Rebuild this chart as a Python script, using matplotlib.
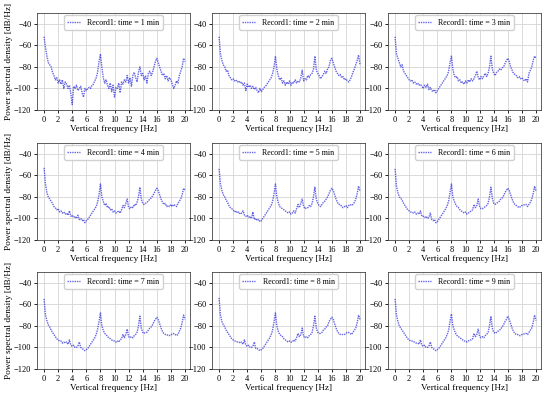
import numpy as np
import matplotlib
matplotlib.use('Agg')
import matplotlib.pyplot as plt

plt.rcParams['font.family'] = ['Liberation Serif', 'DejaVu Serif']
plt.rcParams['mathtext.fontset'] = 'stix'

# frequency grid [Hz], 0.2 Hz step
freq = np.round(np.arange(0, 20.01, 0.2), 2)

# PSD estimates [dB/Hz]
psd_1min = [-52, -62, -70, -76, -78, -80, -85, -88, -92, -90,
            -95, -92, -96, -92, -100, -94, -96, -100, -97, -105,
            -115, -98, -100, -97, -102, -100, -98, -104, -108, -100,
            -102, -100, -99, -100, -97, -96, -93, -90, -85, -75,
            -68, -80, -90, -95, -92, -97, -100, -95, -103, -97,
            -108, -99, -100, -95, -104, -94, -96, -92, -94, -88,
            -95, -90, -98, -88, -85, -90, -94, -85, -80, -88,
            -86, -92, -88, -95, -86, -84, -88, -85, -80, -75,
            -72, -76, -80, -84, -88, -86, -91, -88, -93, -90,
            -92, -96, -100, -97, -93, -95, -88, -84, -80, -72,
            -75]
psd_2min = [-52, -68, -74, -78, -80, -84, -83, -88, -90, -92,
            -91, -93, -92, -94, -93, -95, -94, -97, -95, -102,
            -96, -99, -97, -100, -98, -101, -99, -102, -104, -100,
            -103, -101, -99, -98, -96, -94, -92, -90, -86, -80,
            -70, -82, -88, -92, -90, -95, -93, -97, -94, -96,
            -93, -97, -94, -95, -92, -95, -93, -94, -90, -83,
            -93, -91, -92, -88, -90, -87, -86, -82, -70, -83,
            -86, -88, -91, -89, -87, -84, -86, -82, -80, -74,
            -72, -76, -80, -84, -86, -88, -87, -90, -89, -92,
            -91, -93, -94, -92, -89, -85, -82, -78, -74, -69,
            -78]
psd_3min = [-52, -68, -72, -76, -80, -78, -84, -86, -88, -90,
            -92, -93, -92, -95, -94, -96, -95, -97, -96, -98,
            -100, -97, -99, -96, -101, -99, -102, -103, -101, -104,
            -102, -100, -98, -96, -94, -92, -90, -88, -84, -76,
            -70, -82, -88, -90, -89, -93, -92, -95, -94, -96,
            -93, -95, -92, -94, -91, -93, -91, -88, -84, -90,
            -92, -89, -91, -88, -86, -89, -86, -80, -70, -82,
            -86, -88, -85, -84, -82, -83, -81, -80, -77, -74,
            -72, -75, -80, -83, -86, -87, -88, -90, -89, -91,
            -90, -92, -93, -91, -94, -86, -83, -80, -74, -70,
            -72]
psd_4min = [-53, -68, -76, -80, -82, -84, -86, -89, -90, -92,
            -91, -94, -93, -95, -94, -96, -95, -97, -93, -98,
            -97, -99, -98, -100, -97, -101, -100, -102, -101, -104,
            -102, -101, -99, -97, -95, -93, -91, -89, -85, -78,
            -68, -80, -84, -88, -86, -90, -89, -92, -91, -94,
            -93, -95, -94, -93, -95, -92, -88, -90, -86, -82,
            -90, -91, -89, -90, -87, -88, -85, -80, -71, -82,
            -86, -87, -86, -85, -84, -82, -81, -79, -77, -74,
            -72, -74, -78, -82, -85, -87, -86, -89, -88, -89,
            -87, -89, -87, -88, -89, -86, -84, -82, -78, -72,
            -74]
psd_5min = [-54, -68, -74, -78, -80, -83, -85, -88, -90, -91,
            -92, -94, -93, -95, -94, -96, -95, -93, -97, -98,
            -97, -99, -98, -100, -94, -101, -100, -102, -101, -103,
            -102, -100, -98, -96, -94, -92, -90, -88, -84, -77,
            -68, -80, -85, -89, -90, -91, -92, -93, -94, -95,
            -94, -96, -95, -93, -95, -91, -87, -90, -86, -82,
            -89, -91, -90, -90, -88, -89, -86, -80, -71, -82,
            -86, -88, -89, -87, -85, -84, -82, -80, -77, -74,
            -72, -74, -78, -82, -85, -87, -87, -89, -90, -89,
            -88, -90, -88, -87, -88, -87, -85, -82, -77, -70,
            -75]
psd_6min = [-54, -70, -76, -80, -81, -83, -86, -88, -90, -92,
            -93, -94, -94, -95, -94, -96, -95, -96, -93, -98,
            -98, -99, -98, -100, -99, -95, -101, -102, -101, -104,
            -103, -101, -99, -97, -95, -93, -91, -88, -84, -76,
            -68, -80, -84, -87, -89, -90, -92, -93, -94, -95,
            -94, -96, -95, -94, -93, -92, -87, -90, -88, -82,
            -89, -91, -91, -90, -89, -88, -86, -80, -71, -81,
            -86, -87, -86, -85, -84, -82, -81, -79, -76, -74,
            -72, -74, -78, -82, -85, -87, -88, -89, -90, -89,
            -88, -88, -87, -87, -89, -87, -85, -82, -77, -70,
            -75]
psd_7min = [-55, -70, -75, -79, -81, -84, -86, -88, -90, -92,
            -93, -94, -94, -96, -95, -96, -95, -97, -93, -98,
            -99, -98, -100, -100, -99, -95, -100, -101, -102, -103,
            -102, -101, -99, -97, -95, -93, -91, -88, -83, -76,
            -68, -80, -84, -87, -88, -90, -91, -92, -93, -94,
            -94, -95, -94, -95, -93, -92, -88, -91, -88, -83,
            -90, -91, -90, -91, -89, -88, -86, -80, -71, -82,
            -86, -87, -86, -86, -84, -82, -81, -79, -76, -74,
            -72, -74, -78, -82, -85, -87, -88, -88, -89, -89,
            -88, -88, -87, -88, -89, -88, -85, -82, -77, -70,
            -74]
psd_8min = [-54, -70, -76, -79, -81, -84, -86, -88, -90, -92,
            -93, -94, -94, -95, -95, -96, -95, -97, -93, -98,
            -99, -98, -100, -100, -99, -95, -101, -101, -102, -103,
            -102, -101, -99, -97, -95, -93, -91, -88, -84, -76,
            -68, -80, -85, -88, -89, -90, -92, -93, -94, -95,
            -94, -95, -95, -93, -94, -91, -87, -90, -88, -82,
            -90, -91, -90, -91, -89, -88, -86, -80, -71, -82,
            -86, -87, -87, -86, -84, -83, -81, -80, -76, -74,
            -72, -74, -78, -82, -85, -87, -88, -88, -88, -88,
            -87, -86, -86, -87, -88, -86, -84, -82, -77, -70,
            -74]
psd_9min = [-55, -70, -76, -80, -82, -84, -86, -88, -90, -92,
            -93, -94, -94, -95, -95, -96, -96, -97, -93, -98,
            -99, -98, -100, -100, -99, -95, -100, -101, -102, -103,
            -102, -101, -99, -97, -95, -93, -91, -88, -84, -76,
            -69, -80, -84, -87, -89, -90, -91, -92, -93, -94,
            -94, -95, -94, -93, -93, -92, -87, -90, -88, -83,
            -90, -91, -90, -91, -89, -88, -86, -80, -71, -82,
            -86, -87, -86, -85, -84, -83, -81, -79, -76, -74,
            -71, -74, -78, -82, -85, -87, -88, -88, -89, -89,
            -88, -88, -87, -87, -88, -86, -84, -82, -77, -70,
            -75]

series = [psd_1min, psd_2min, psd_3min, psd_4min, psd_5min,
          psd_6min, psd_7min, psd_8min, psd_9min]
minutes = [1, 2, 3, 4, 5, 6, 7, 8, 9]

fig = plt.figure(figsize=(5.5, 3.98), dpi=100)
lefts = [0.0673, 0.3855, 0.7055]
bottoms = [0.7236, 0.397, 0.0729]
w, h = 0.278, 0.2437

for i, (psd, m) in enumerate(zip(series, minutes)):
    r, c = divmod(i, 3)
    ax = fig.add_axes([lefts[c], bottoms[r], w, h])
    ax.plot(freq, psd, color='#2222dd', linestyle=(0, (1, 0.7)), linewidth=1.0,
            alpha=0.7, label=f'Record1: time = {m} min')
    ax.set_xlim(-1, 20.7)
    ax.set_ylim(-120, -30)
    ax.set_xticks(range(0, 21, 2))
    ax.set_yticks(range(-120, -39, 20))
    ax.tick_params(labelsize=6.0, length=2.5, width=0.6, pad=1.5)
    ax.grid(True, color='#d4d4d4', linewidth=0.6)
    for s in ax.spines.values():
        s.set_linewidth(0.6)
        s.set_color('#444444')
    ax.set_xlabel('Vertical frequency [Hz]', fontsize=6.6, labelpad=1)
    if c == 0:
        ax.set_ylabel('Power spectral density [dB/Hz]', fontsize=6.7, labelpad=1)
    ax.legend(loc='upper center', fontsize=5.8, handlelength=1.6,
              handletextpad=0.9, borderpad=0.4, borderaxespad=0.3,
              framealpha=0.9, edgecolor='#cccccc')

fig.savefig('out.png', dpi=100)
